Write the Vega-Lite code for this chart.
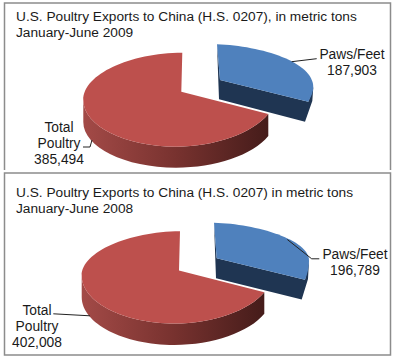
{
"$schema":"https://vega.github.io/schema/vega-lite/v6.json",
"padding":{"left":1.5,"top":0,"right":0,"bottom":0},
"background":"white",
"spacing":-1.5,
"config":{"view":{"stroke":null},"text":{"font":"Liberation Sans"}},
"vconcat":[
{"width":386,"height":167,
 "data":{"values":[
  {"slice":"Total Poultry","value":385494,"label":"Total\nPoultry\n385,494"},
  {"slice":"Paws/Feet","value":187903,"label":"Paws/Feet\n187,903"}]},
 "layer":[
  {"transform":[{"filter":"datum.slice=='Total Poultry'"}],"mark":{"type":"point","filled":false,"fill":null,"stroke":"#8c8c8c","strokeWidth":1.5,"opacity":1,"size":4,"shape":"M-193,83.5 L-193,-83.5 L193,-83.5 L193,83.5"}},
  {"transform":[{"filter":"datum.slice=='Total Poultry'"}],"mark":{"type":"point","filled":true,"opacity":1,"size":4,"shape":"M-114.2,13.5 C-114.2,39.5 -72.5,60.2 -21.5,60.2 C17.5,60.2 55.5,46.5 70.8,27.5 L70.8,49.5 C55.5,68.5 17.5,81.2 -21.5,81.2 C-72.5,81.2 -114.2,60.5 -114.2,35.5 Z","fill":{"gradient":"linear","x1":0,"y1":0,"x2":1,"y2":0,"stops":[{"offset":0,"color":"#a34a47"},{"offset":0.5,"color":"#78322f"},{"offset":1,"color":"#451c1a"}]}}},
  {"transform":[{"filter":"datum.slice=='Total Poultry'"}],"mark":{"type":"point","filled":true,"opacity":1,"size":4,"fill":"#bd504d","shape":"M-15.2,-33.8 C-67.5,-33.5 -114.2,-12.5 -114.2,13.5 C-114.2,39.5 -72.5,60.2 -21.5,60.2 C17.5,60.2 55.5,46.5 70.8,27.5 L-16.2,5.2 Z"}},
  {"transform":[{"filter":"datum.slice=='Paws/Feet'"}],"mark":{"type":"point","filled":true,"opacity":1,"size":4,"fill":"#1f3552","shape":"M19.5,-42.2 L22.5,-6.5 L110.8,15.2 L115.8,0.8 L114.8,14.5 L107.5,35.2 L21.5,12.8 Z"}},
  {"transform":[{"filter":"datum.slice=='Paws/Feet'"}],"mark":{"type":"point","filled":true,"opacity":1,"size":4,"fill":"#4f81bd","shape":"M19.5,-42.2 C64.5,-40.5 115.8,-24.5 115.8,0.8 C115.8,5.5 113.5,10.5 110.8,15.2 L22.5,-6.5 Z"}},
  {"transform":[{"filter":"datum.slice=='Paws/Feet'"}],"mark":{"type":"point","filled":false,"fill":null,"stroke":"#222222","strokeWidth":1,"opacity":1,"size":4,"shape":"M94.2,-24.8 L119.2,-27.8"}},
  {"transform":[{"filter":"datum.slice=='Total Poultry'"}],"mark":{"type":"point","filled":false,"fill":null,"stroke":"#222222","strokeWidth":1,"opacity":1,"size":4,"shape":"M-114.5,60.5 L-107.5,60.5 L-105.5,53.5"}},
  {"mark":{"type":"text","fontSize":13.8,"align":"center","baseline":"alphabetic","lineBreak":"\n","lineHeight":16,"color":"#1a1a1a"},
   "encoding":{"text":{"field":"label"},
    "x":{"field":"slice","type":"nominal","axis":null,"scale":{"domain":["Total Poultry","Paws/Feet"],"padding":0,"range":[54.5,347.5]}},
    "y":{"field":"slice","type":"nominal","axis":null,"scale":{"domain":["Total Poultry","Paws/Feet"],"padding":0,"range":[129,56]}}}},
  {"data":{"values":[{"title":"U.S. Poultry Exports to China (H.S. 0207), in metric tons\nJanuary-June 2009"}]},
   "mark":{"type":"text","fontSize":13.7,"align":"left","baseline":"alphabetic","lineBreak":"\n","lineHeight":16,"color":"#1a1a1a"},
   "encoding":{"text":{"field":"title"},"x":{"value":11.5},"y":{"value":17.7}}}
 ]},
{"width":386,"height":182,
 "view":{"stroke":"#8c8c8c","strokeWidth":1.5},
 "data":{"values":[
  {"slice":"Total Poultry","value":402008,"label":"Total\nPoultry\n402,008"},
  {"slice":"Paws/Feet","value":196789,"label":"Paws/Feet\n196,789"}]},
 "layer":[
  {"transform":[{"filter":"datum.slice=='Total Poultry'"}],"mark":{"type":"point","filled":true,"opacity":1,"size":4,"shape":"M-115.8,11.5 C-115.8,38 -74,59.5 -23,59.5 C15,59.5 52,46.5 66.8,28.2 L66.8,49.8 C52,68 15,81 -23,81 C-74,81 -115.8,59.5 -115.8,33 Z","fill":{"gradient":"linear","x1":0,"y1":0,"x2":1,"y2":0,"stops":[{"offset":0,"color":"#a34a47"},{"offset":0.5,"color":"#78322f"},{"offset":1,"color":"#451c1a"}]}}},
  {"transform":[{"filter":"datum.slice=='Total Poultry'"}],"mark":{"type":"point","filled":true,"opacity":1,"size":4,"fill":"#bd504d","shape":"M-17.5,-32.8 C-69,-32.5 -115.8,-12 -115.8,11.5 C-115.8,38 -74,59.5 -23,59.5 C15,59.5 52,46.5 66.8,28.2 L-18.5,6.5 Z"}},
  {"transform":[{"filter":"datum.slice=='Paws/Feet'"}],"mark":{"type":"point","filled":true,"opacity":1,"size":4,"fill":"#1f3552","shape":"M16.5,-41.2 L19.2,-5.8 L107.5,15.8 L111.5,-3.5 L110.5,15 L104.2,35.5 L18.5,14.2 Z"}},
  {"transform":[{"filter":"datum.slice=='Paws/Feet'"}],"mark":{"type":"point","filled":true,"opacity":1,"size":4,"fill":"#4f81bd","shape":"M16.5,-41.2 C60,-40 111.5,-24 111.5,-3.5 C111.5,3 110,10 107.5,15.8 L19.2,-5.8 Z"}},
  {"transform":[{"filter":"datum.slice=='Paws/Feet'"}],"mark":{"type":"point","filled":false,"fill":null,"stroke":"#222222","strokeWidth":1,"opacity":1,"size":4,"shape":"M89.8,-24.5 L114.2,-5.2 L121.8,-5.2"}},
  {"transform":[{"filter":"datum.slice=='Total Poultry'"}],"mark":{"type":"point","filled":false,"fill":null,"stroke":"#222222","strokeWidth":1,"opacity":1,"size":4,"shape":"M-144.2,49.8 L-107.5,51.8"}},
  {"mark":{"type":"text","fontSize":13.8,"align":"center","baseline":"alphabetic","lineBreak":"\n","lineHeight":16,"color":"#1a1a1a"},
   "encoding":{"text":{"field":"label"},
    "x":{"field":"slice","type":"nominal","axis":null,"scale":{"domain":["Total Poultry","Paws/Feet"],"padding":0,"range":[32.5,350.5]}},
    "y":{"field":"slice","type":"nominal","axis":null,"scale":{"domain":["Total Poultry","Paws/Feet"],"padding":0,"range":[141.8,85.8]}}}},
  {"data":{"values":[{"title":"U.S. Poultry Exports to China (H.S. 0207) in metric tons\nJanuary-June 2008"}]},
   "mark":{"type":"text","fontSize":13.7,"align":"left","baseline":"alphabetic","lineBreak":"\n","lineHeight":16,"color":"#1a1a1a"},
   "encoding":{"text":{"field":"title"},"x":{"value":11.5},"y":{"value":24.2}}}
 ]}
]}
